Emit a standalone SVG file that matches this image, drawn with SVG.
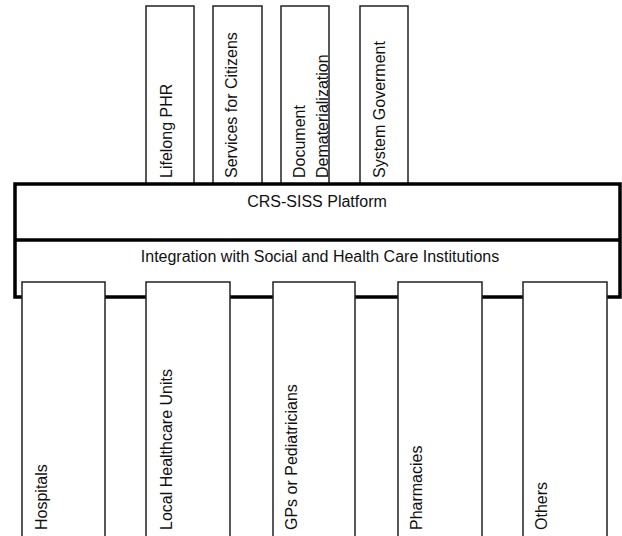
<svg xmlns="http://www.w3.org/2000/svg" width="622" height="536" viewBox="0 0 622 536">
<style>
.box{fill:#fff;stroke:#222;stroke-width:1.5}
.plat{fill:none;stroke:#000;stroke-width:3.5}
text{font-family:"Liberation Sans",Arial,sans-serif;font-size:16px;fill:#111}
.v{text-anchor:start}
.c{text-anchor:middle}
</style>
<rect width="622" height="536" fill="#fff"/>
<g id="lifelong-phr">
<rect class="box" x="146" y="6" width="48" height="178"/>
<text class="v" transform="translate(171.5,178) rotate(-90)">Lifelong PHR</text>
</g>
<g id="services-for-citizens">
<rect class="box" x="213" y="6" width="49" height="178"/>
<text class="v" transform="translate(237,178) rotate(-90)">Services for Citizens</text>
</g>
<g id="document-dematerialization">
<rect class="box" x="281" y="6" width="48" height="178"/>
<text class="v" transform="translate(305,178) rotate(-90)">Document</text>
<text class="v" transform="translate(328,178) rotate(-90)">Dematerialization</text>
</g>
<g id="system-goverment">
<rect class="box" x="360" y="6" width="48" height="178"/>
<text class="v" transform="translate(385,178) rotate(-90)">System Goverment</text>
</g>
<g id="crs-siss-platform">
<rect class="plat" x="15" y="184" width="605" height="113"/>
<line class="plat" x1="15" y1="240" x2="620" y2="240"/>
<text class="c" x="317" y="207">CRS-SISS Platform</text>
</g>
<g id="integration">
<text class="c" x="320" y="262">Integration with Social and Health Care Institutions</text>
</g>
<g id="hospitals">
<rect class="box" x="22" y="282" width="83" height="260"/>
<text class="v" transform="translate(46.5,530) rotate(-90)">Hospitals</text>
</g>
<g id="local-healthcare-units">
<rect class="box" x="146" y="282" width="84" height="260"/>
<text class="v" transform="translate(172,530) rotate(-90)">Local Healthcare Units</text>
</g>
<g id="gps-or-pediatricians">
<rect class="box" x="273" y="282" width="82" height="260"/>
<text class="v" transform="translate(296.5,530) rotate(-90)">GPs or Pediatricians</text>
</g>
<g id="pharmacies">
<rect class="box" x="398" y="282" width="84" height="260"/>
<text class="v" transform="translate(422,530) rotate(-90)">Pharmacies</text>
</g>
<g id="others">
<rect class="box" x="523" y="282" width="84" height="260"/>
<text class="v" transform="translate(547,530) rotate(-90)">Others</text>
</g>
<g id="connectors"></g>
</svg>
